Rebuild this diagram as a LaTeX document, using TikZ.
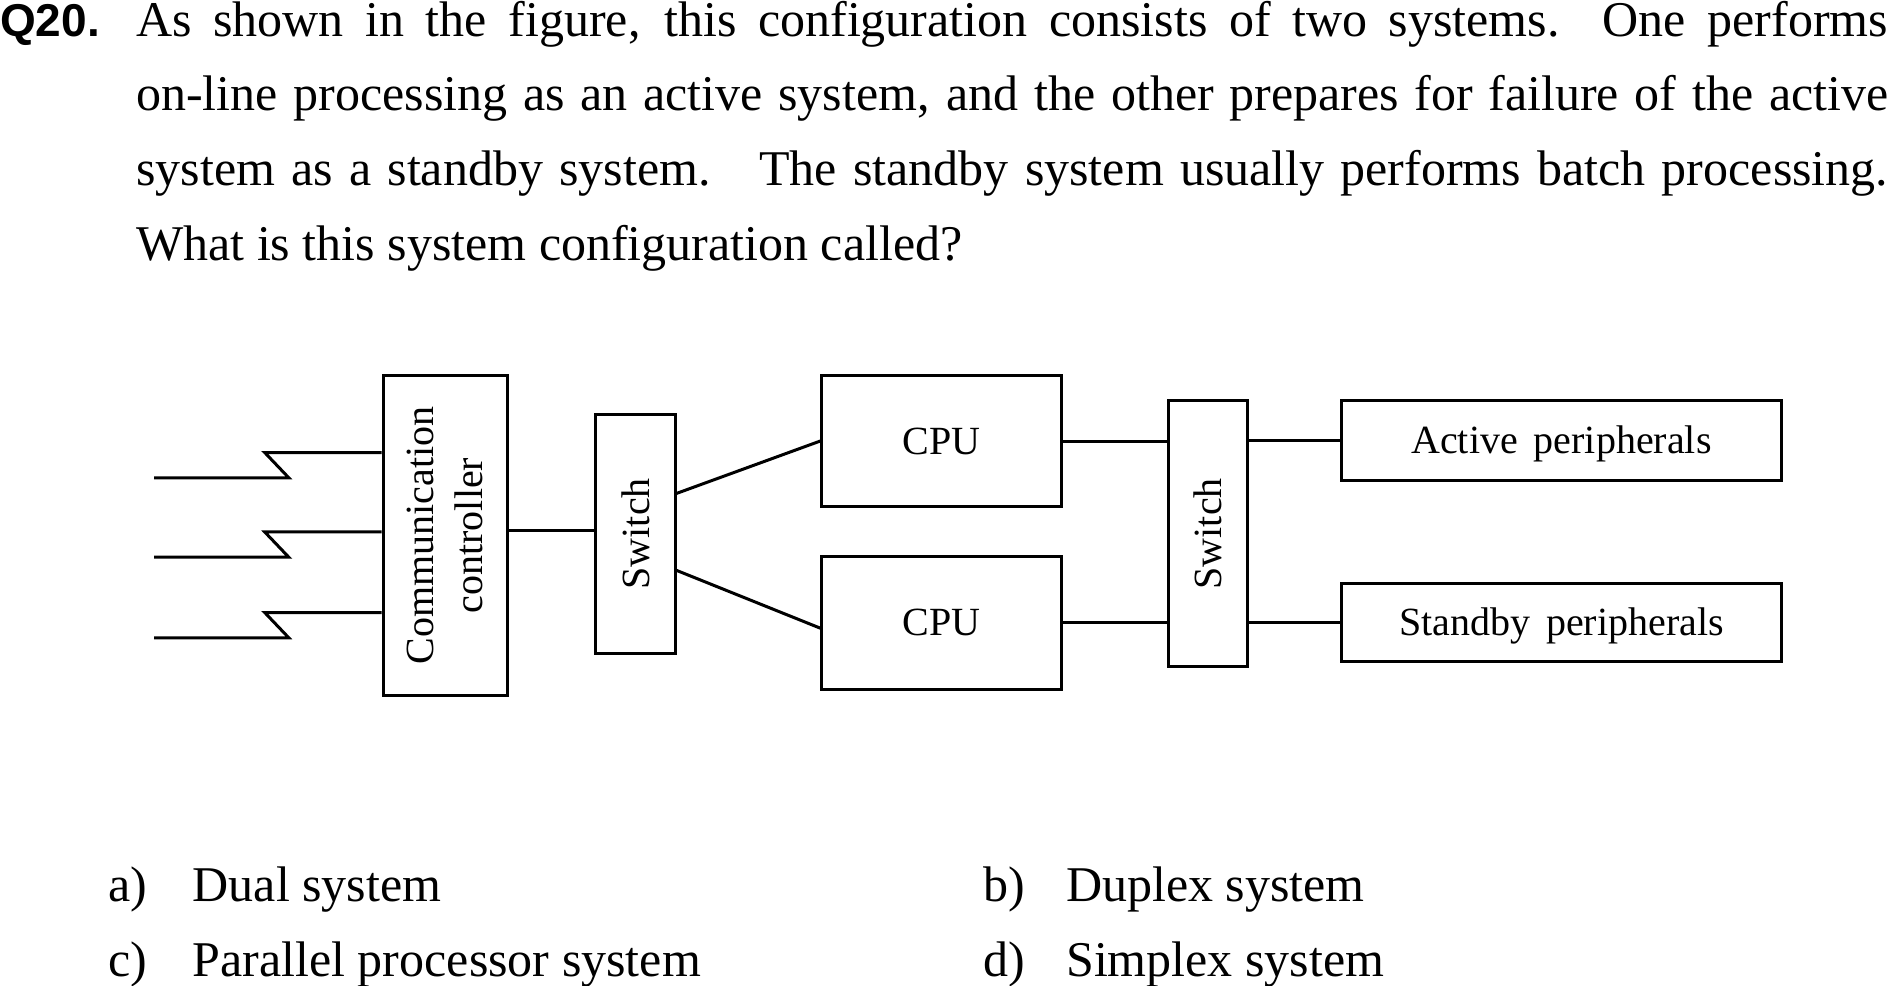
\documentclass[tikz,border=0pt]{standalone}
\usepackage{fontspec}
\setmainfont{Liberation Serif}
\newfontfamily\qfont{Liberation Sans}
\begin{document}
\begin{tikzpicture}[x=1pt,y=-1pt,
  box/.style={draw,line width=3pt,inner sep=0pt},
  lbl/.style={inner sep=0pt,font=\fontsize{40}{49}\selectfont,align=center},
  wire/.style={line width=3pt},
  txt/.style={inner sep=0pt,anchor=base west,font=\fontsize{50}{75}\selectfont}]
\useasboundingbox (0,0) rectangle (1887,985);

% question text
\node[txt,font=\qfont\bfseries\fontsize{46}{75}\selectfont] (qno) at (0,36) {Q20.};
\node[txt] (l1) at (136,36) {\makebox[1752pt][s]{As shown in the figure, this configuration consists of two systems.\ \ One performs}};
\node[txt] (l2) at (136,110.5) {\makebox[1752pt][s]{on-line processing as an active system, and the other prepares for failure of the active}};
\node[txt] (l3) at (136,185) {\makebox[1752pt][s]{system as a standby system.\ \ \ The standby system usually performs batch processing.}};
\node[txt] (l4) at (136,260) {What is this system configuration called?};

% blocks
\node[box,minimum width=124pt,minimum height=320pt] (comm) at (445,535.5) {};
\node[lbl,rotate=90] at (comm) {Communication\\controller};
\node[box,minimum width=79.4pt,minimum height=239.4pt] (sw1) at (635.4,533.7) {};
\node[lbl,rotate=90] at (sw1) {Switch};
\node[box,minimum width=239.5pt,minimum height=131pt] (cpu1) at (941.6,441) {};
\node[lbl] at (cpu1) {CPU};
\node[box,minimum width=239.5pt,minimum height=133.5pt] (cpu2) at (941.6,622.8) {};
\node[lbl] at (cpu2) {CPU};
\node[box,minimum width=79.4pt,minimum height=266pt] (sw2) at (1208.2,533.7) {};
\node[lbl,rotate=90] at (sw2) {Switch};
\node[box,minimum width=439.2pt,minimum height=79.5pt] (act) at (1561.4,440.4) {};
\node[lbl,yshift=-3pt] at (act) {Active\hspace{0.4em}peripherals};
\node[box,minimum width=439.2pt,minimum height=78.3pt] (stb) at (1561.4,622.8) {};
\node[lbl,yshift=-3pt] at (stb) {Standby\hspace{0.4em}peripherals};

% incoming lines
\coordinate (in1) at (154,477.8);
\coordinate (in2) at (154,557.2);
\coordinate (in3) at (154,637.8);
\foreach \i in {1,2,3}
  \draw[wire,line join=miter] (in\i) -- ++(134.8,0) -- ++(-24.1,-25.3) coordinate (t\i) -- (t\i -| comm.west);

% connections
\draw[wire] ([yshift=4.9pt]comm.east) coordinate (c1) -- (c1 -| sw1.west);
\draw[wire] ([yshift=40.3pt]sw1.east) -- (cpu1.west);
\draw[wire] ([yshift=-36.7pt]sw1.east) -- ([yshift=-5.4pt]cpu2.west);
\draw[wire] (cpu1.east) -- (cpu1.east -| sw2.west);
\draw[wire] (cpu2.east) -- (cpu2.east -| sw2.west);
\draw[wire] (act.west -| sw2.east) -- (act.west);
\draw[wire] (stb.west -| sw2.east) -- (stb.west);

% answer choices
\node[txt] (oa) at (108,901) {a)};
\node[txt] (ta) at (192.5,901) {Dual system};
\node[txt] (ob) at (983,901) {b)};
\node[txt] (tb) at (1066,901) {Duplex system};
\node[txt] (oc) at (108,976) {c)};
\node[txt] (tc) at (192.5,976) {Parallel processor system};
\node[txt] (od) at (983,976) {d)};
\node[txt] (td) at (1066,976) {Simplex system};
\end{tikzpicture}
\end{document}
